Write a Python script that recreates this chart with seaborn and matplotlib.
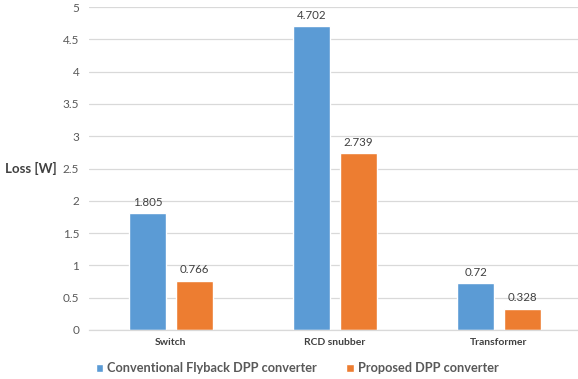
import matplotlib
matplotlib.use("Agg")
import matplotlib.pyplot as plt
import seaborn as sns
import pandas as pd

categories = ["Switch", "RCD snubber", "Transformer"]
series_names = ["Conventional Flyback DPP converter", "Proposed DPP converter"]
conventional = [1.805, 4.702, 0.72]
proposed = [0.766, 2.739, 0.328]
y_ticks = [0, 0.5, 1, 1.5, 2, 2.5, 3, 3.5, 4, 4.5, 5]

df = pd.DataFrame({
    "Component": categories * 2,
    "Converter": [series_names[0]] * 3 + [series_names[1]] * 3,
    "Loss": conventional + proposed,
})

sns.set_theme(style="white")
plt.rcParams["font.family"] = ["Lato", "DejaVu Sans"]

fig = plt.figure(figsize=(5.78, 3.79), dpi=100)
ax = fig.add_axes([0.154, 0.1293, 0.851, 0.852])

sns.barplot(data=df, x="Component", y="Loss", hue="Converter",
            palette=["#5B9BD5", "#ED7D31"], width=0.567, gap=0.2,
            ax=ax, errorbar=None, saturation=1)

ax.set_ylim(0, 5)
ax.set_xlim(-0.5, 2.5)
ax.set_yticks(y_ticks)
ax.set_yticklabels([f"{t:g}" for t in y_ticks])
ax.grid(axis="y", color="#D9D9D9", linewidth=0.9)
ax.set_axisbelow(True)
for s in ["top", "right", "left"]:
    ax.spines[s].set_visible(False)
ax.spines["bottom"].set_color("#D9D9D9")
ax.spines["bottom"].set_linewidth(0.9)

ax.tick_params(axis="y", length=0, labelsize=8.5, labelcolor="#595959", pad=7)
ax.tick_params(axis="x", length=0, labelsize=7.5, labelcolor="#404040", pad=6)
for lbl in ax.get_xticklabels():
    lbl.set_fontweight("bold")

for cont in ax.containers:
    ax.bar_label(cont, fmt="%g", padding=4, fontsize=8.3, color="#404040")

ax.set_xlabel("")
ax.set_ylabel("Loss [W]", rotation=0, fontsize=9.5, fontweight="bold",
              color="#404040", va="center", ha="center")
ax.yaxis.set_label_coords(-0.118, 0.5)

handles, labels = ax.get_legend_handles_labels()
ax.legend(handles, labels, loc="upper left", bbox_to_anchor=(-0.01, -0.065),
          ncol=2, frameon=False, handlelength=0.6, handleheight=0.6,
          handletextpad=0.3, columnspacing=2.3,
          prop={"size": 9.2, "weight": "bold"}, labelcolor="#595959")

fig.savefig("out.png", dpi=100)
